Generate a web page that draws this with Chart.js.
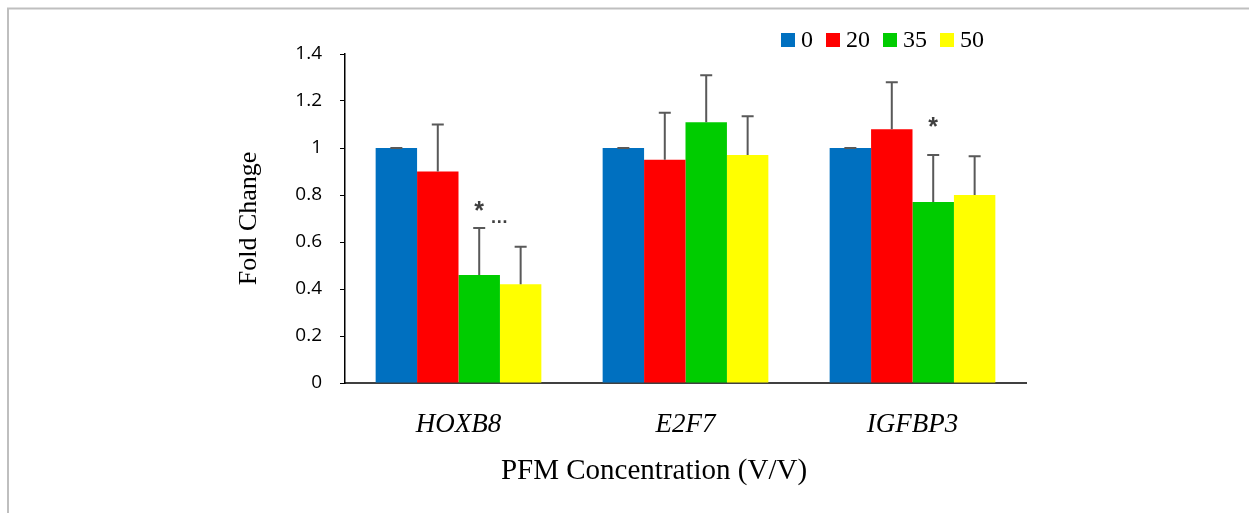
<!DOCTYPE html>
<html lang="en">

<head>
  <meta charset="UTF-8">
  <title>Fold Change by PFM Concentration</title>
  <script src="https://cdn.jsdelivr.net/npm/chart.js"></script>
  <style>
    body { margin: 0; background: #fff; }
    #wrap { position: relative; width: 1249px; height: 513px; }
  </style>
</head>

<body>
  <div id="wrap"><canvas id="foldChart" width="1249" height="513"></canvas></div>

  <script>
    // genes on the x axis
    const genes = ['HOXB8', 'E2F7', 'IGFBP3'];
    // PFM concentrations (legend)
    const concentrations = ['0', '20', '35', '50'];

    // mean fold change per concentration
    const conc0 = [1.00, 1.00, 1.00];
    const conc20 = [0.90, 0.95, 1.08];
    const conc35 = [0.46, 1.11, 0.77];
    const conc50 = [0.42, 0.97, 0.80];

    // upper error (SD) per concentration
    const err0 = [0.00, 0.00, 0.00];
    const err20 = [0.20, 0.20, 0.20];
    const err35 = [0.20, 0.20, 0.20];
    const err50 = [0.16, 0.165, 0.165];

    // significance marks: gene index, series index, label, y value
    const marks = [
      { gene: 0, series: 2, text: '*', y: 0.75 },
      { gene: 0, series: 2, text: '\u2026', y: 0.70 },
      { gene: 2, series: 2, text: '*', y: 1.105 }
    ];

    const colors = ['#0070c0', '#ff0000', '#00cc00', '#ffff00'];
    const values = [conc0, conc20, conc35, conc50];
    const errors = [err0, err20, err35, err50];

    // white background + light grey frame
    const framePlugin = {
      id: 'frame',
      beforeDraw(chart) {
        const c = chart.ctx;
        c.save();
        c.fillStyle = '#fff';
        c.fillRect(0, 0, chart.width, chart.height);
        c.strokeStyle = '#bfbfbf';
        c.lineWidth = 2;
        c.beginPath();
        c.moveTo(8, chart.height);
        c.lineTo(8, 8.5);
        c.lineTo(chart.width, 8.5);
        c.stroke();
        c.restore();
      }
    };

    // upper error bars with caps
    const errorBarPlugin = {
      id: 'errorBars',
      afterDatasetsDraw(chart) {
        const c = chart.ctx;
        const y = chart.scales.y;
        c.save();
        c.strokeStyle = '#595959';
        c.lineWidth = 2;
        chart.data.datasets.forEach((ds, i) => {
          chart.getDatasetMeta(i).data.forEach((bar, j) => {
            const top = y.getPixelForValue(ds.data[j] + errors[i][j]);
            const base = y.getPixelForValue(ds.data[j]);
            c.beginPath();
            c.moveTo(bar.x, base);
            c.lineTo(bar.x, top);
            c.moveTo(bar.x - 6, top);
            c.lineTo(bar.x + 6, top);
            c.stroke();
          });
        });
        // significance marks
        c.fillStyle = '#404040';
        c.textAlign = 'center';
        c.textBaseline = 'middle';
        marks.forEach(m => {
          const bar = chart.getDatasetMeta(m.series).data[m.gene];
          const py = y.getPixelForValue(m.y);
          if (m.text === '*') {
            c.font = 'bold 25px "Liberation Sans"';
            c.fillText(m.text, bar.x, py + 5);
          } else {
            c.font = 'bold 18px "Liberation Sans"';
            c.fillText(m.text, bar.x + 20, py);
          }
        });
        c.restore();
      }
    };

    // legend row at the top right
    const legendPlugin = {
      id: 'squareLegend',
      afterDraw(chart) {
        const c = chart.ctx;
        c.save();
        c.font = '24px "Liberation Serif"';
        c.textBaseline = 'middle';
        c.textAlign = 'left';
        let x = 781;
        const cy = 40;
        chart.data.datasets.forEach(ds => {
          c.fillStyle = ds.backgroundColor;
          c.fillRect(x, cy - 7, 14, 14);
          c.fillStyle = '#000';
          c.fillText(ds.label, x + 20, cy + 1);
          x += 20 + c.measureText(ds.label).width + 13;
        });
        c.restore();
      }
    };

    // x axis title
    const xTitlePlugin = {
      id: 'xTitle',
      afterDraw(chart) {
        const c = chart.ctx;
        c.save();
        c.font = '29px "Liberation Serif"';
        c.fillStyle = '#000';
        c.textAlign = 'center';
        c.textBaseline = 'middle';
        c.fillText('PFM Concentration (V/V)', 654, 471);
        c.restore();
      }
    };

    const ctx = document.getElementById('foldChart').getContext('2d');
    const foldChart = new Chart(ctx, {
      type: 'bar',
      data: {
        labels: genes,
        datasets: concentrations.map((label, i) => ({
          label: label,
          data: values[i],
          backgroundColor: colors[i],
          borderWidth: 0,
          barPercentage: 1.0,
          categoryPercentage: 0.73
        }))
      },
      options: {
        responsive: false,
        animation: false,
        layout: { padding: { top: 54, right: 223, bottom: 0, left: 0 } },
        plugins: {
          legend: { display: false },
          tooltip: { enabled: false }
        },
        scales: {
          x: {
            grid: { display: false },
            border: { display: true, color: '#404040', width: 2 },
            ticks: {
              color: '#000',
              padding: 18,
              font: { family: '"Liberation Serif"', style: 'italic', size: 27 }
            },
            afterFit(scale) { scale.height = 130; }
          },
          y: {
            min: 0,
            max: 1.4,
            grid: { drawOnChartArea: false, drawTicks: true, tickLength: 5, color: '#000' },
            border: { display: true, color: '#000', width: 1.5 },
            ticks: {
              stepSize: 0.2,
              color: '#000',
              padding: 18,
              font: { family: '"Open Sans"', size: 19 },
              callback: v => Math.round(v * 10) / 10
            },
            title: {
              display: true,
              text: 'Fold Change',
              color: '#000',
              font: { family: '"Liberation Serif"', size: 26 },
              padding: { top: 234, bottom: 0 }
            },
            afterFit(scale) { scale.width = 345; }
          }
        }
      },
      plugins: [framePlugin, errorBarPlugin, legendPlugin, xTitlePlugin]
    });
  </script>
</body>

</html>
